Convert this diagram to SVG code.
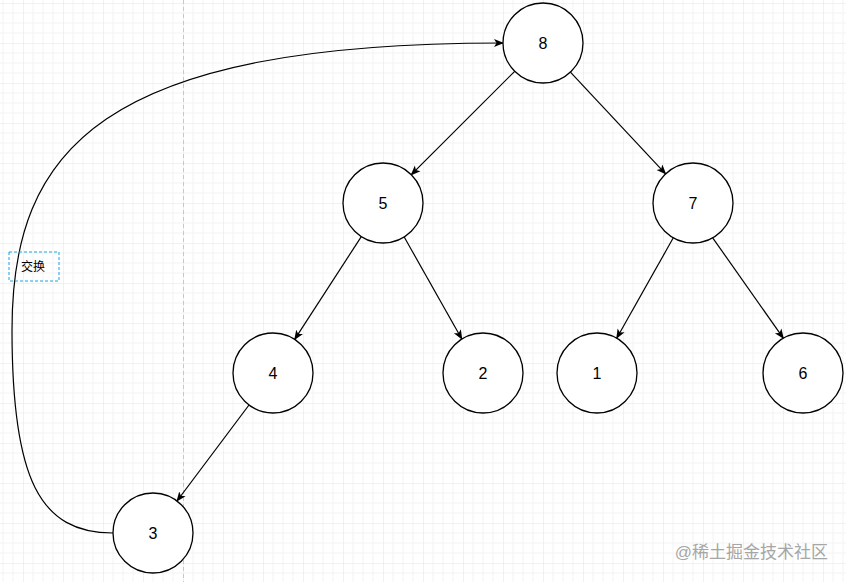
<svg xmlns="http://www.w3.org/2000/svg" width="846" height="582" viewBox="0 0 846 582">
<style>
.node circle{fill:#fff;stroke:#000;stroke-width:1.3}
.node text{font-family:"Liberation Sans",Arial,sans-serif;font-size:16px;fill:#000;text-anchor:middle;dominant-baseline:central}
.edge{fill:none;stroke:#000;stroke-width:1.2}
</style>
<defs>
<pattern id="grid" patternUnits="userSpaceOnUse" width="40" height="40" x="23" y="3">
<path d="M10 0V40M20 0V40M30 0V40M0 10H40M0 20H40M0 30H40" stroke="#f3f3f3" stroke-width="1" fill="none"/>
<path d="M0 0V40M0 0H40" stroke="#e3e3e3" stroke-width="1" fill="none"/>
</pattern>
<marker id="arr" viewBox="0 0 10 10" refX="9" refY="5" markerWidth="10" markerHeight="10" markerUnits="userSpaceOnUse" orient="auto">
<path d="M0 1L10 5L0 9L2.5 5Z" fill="#000"/>
</marker>
</defs>
<rect width="846" height="582" fill="#fff"/>
<rect width="846" height="582" fill="url(#grid)"/>
<line x1="183.5" y1="0" x2="183.5" y2="582" stroke="#c8c8c8" stroke-dasharray="4 3"/>
<g id="connectors">
<line class="edge" x1="514.7" y1="71.3" x2="411.3" y2="174.7" marker-end="url(#arr)"/>
<line class="edge" x1="570.4" y1="72.2" x2="665.6" y2="173.8" marker-end="url(#arr)"/>
<line class="edge" x1="361.3" y1="236.6" x2="294.7" y2="339.4" marker-end="url(#arr)"/>
<line class="edge" x1="404.2" y1="237" x2="461.8" y2="339" marker-end="url(#arr)"/>
<line class="edge" x1="673.3" y1="237.8" x2="616.7" y2="338.2" marker-end="url(#arr)"/>
<line class="edge" x1="712.7" y1="237.8" x2="783.3" y2="338.2" marker-end="url(#arr)"/>
<line class="edge" x1="249" y1="405" x2="177" y2="501" marker-end="url(#arr)"/>
<path class="edge" d="M113 533C40 533 12 480 12 330C12 150 100 43 503 43" marker-end="url(#arr)"/>
<rect x="9" y="252" width="50" height="29" fill="none" stroke="#1ba1e2" stroke-dasharray="3 2" stroke-width="1"/>
<text x="21" y="267" font-family="'Liberation Sans','Noto Sans CJK SC',sans-serif" font-size="12" dominant-baseline="central" fill="#000">交换</text>
</g>
<g id="n8" class="node"><circle cx="543" cy="43" r="40"/><text x="543" y="43">8</text></g>
<g id="n5" class="node"><circle cx="383" cy="203" r="40"/><text x="383" y="203">5</text></g>
<g id="n7" class="node"><circle cx="693" cy="203" r="40"/><text x="693" y="203">7</text></g>
<g id="n4" class="node"><circle cx="273" cy="373" r="40"/><text x="273" y="373">4</text></g>
<g id="n2" class="node"><circle cx="483" cy="373" r="40"/><text x="483" y="373">2</text></g>
<g id="n1" class="node"><circle cx="597" cy="373" r="40"/><text x="597" y="373">1</text></g>
<g id="n6" class="node"><circle cx="803" cy="373" r="40"/><text x="803" y="373">6</text></g>
<g id="n3" class="node"><circle cx="153" cy="533" r="40"/><text x="153" y="533">3</text></g>
<text x="828" y="552" text-anchor="end" dominant-baseline="central" font-family="'Liberation Sans','Noto Sans CJK SC',sans-serif" font-size="17" fill="#a6a6a6">@稀土掘金技术社区</text>
</svg>
